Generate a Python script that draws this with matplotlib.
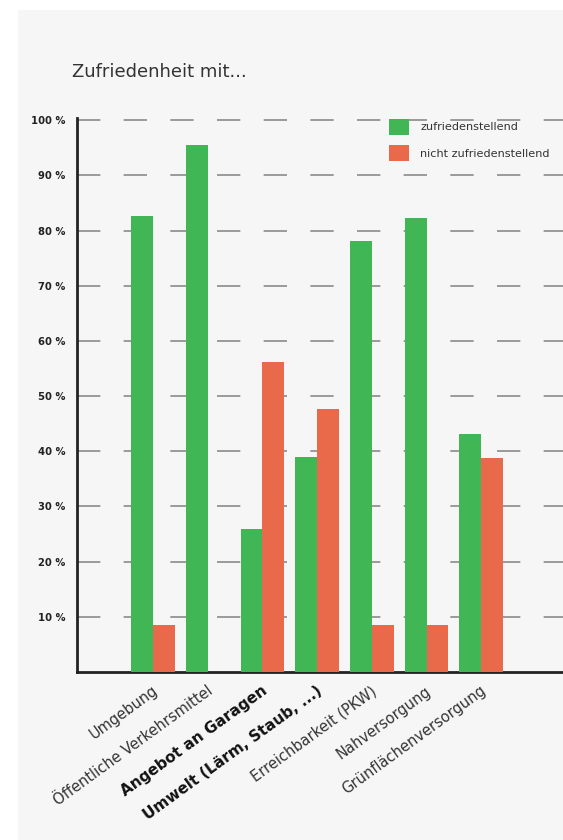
import numpy as np
import matplotlib.pyplot as plt
import matplotlib.transforms as mtransforms
from matplotlib.patches import Rectangle

# data
kategorien = ['Umgebung', 'Öffentliche Verkehrsmittel', 'Angebot an Garagen',
              'Umwelt (Lärm, Staub, ...)', 'Erreichbarkeit (PKW)', 'Nahversorgung',
              'Grünflächenversorgung']
zufrieden = [82.6, 95.5, 26.0, 38.9, 78.1, 82.3, 43.2]
nicht_zufrieden = [8.5, 0.0, 56.2, 47.7, 8.5, 8.5, 38.7]
fett = ['Angebot an Garagen', 'Umwelt (Lärm, Staub, ...)']
yticks = [10, 20, 30, 40, 50, 60, 70, 80, 90, 100]

gruen = '#41b654'
rot = '#e9694b'

fig = plt.figure(figsize=(5.63, 8.4), dpi=100)
# grey scanned page behind the chart
fig.patches.append(Rectangle((18 / 563, 0), 1, 1 - 10 / 840, transform=fig.transFigure,
                             facecolor='#f6f6f6', edgecolor='none', zorder=-10))

ax = fig.add_axes([77 / 563, 168 / 840, 500 / 563, 554 / 840])
ax.patch.set_alpha(0)

x = np.arange(len(kategorien))
w = 0.4
ax.bar(x - w / 2, zufrieden, w, color=gruen, label='zufriedenstellend', zorder=3)
ax.bar(x + w / 2, nicht_zufrieden, w, color=rot, label='nicht zufriedenstellend', zorder=3)

ax.set_xlim(-76 / 54.7, -76 / 54.7 + 500 / 54.7)
ax.set_ylim(0, 100.4)

# dashed grid
for yv in yticks:
    ax.axhline(yv, color='#8a8a8a', lw=1.2, linestyle=(0, (14, 14)), zorder=1)

for s in ['top', 'right']:
    ax.spines[s].set_visible(False)
for s in ['left', 'bottom']:
    ax.spines[s].set_linewidth(2)
    ax.spines[s].set_color('#222222')

ax.set_yticks(yticks)
ax.set_yticklabels(['{} %'.format(v) for v in yticks], fontsize=7.2, fontweight='bold', color='#222222')
ax.tick_params(axis='y', length=0, pad=8.5)

ax.set_xticks(x)
ax.set_xticklabels(kategorien, rotation=36, ha='right', va='top', rotation_mode='anchor',
                   fontsize=10.5, color='#333333')
ax.tick_params(axis='x', length=0, pad=8)
offset = mtransforms.ScaledTranslation(-1 / 100, 0, fig.dpi_scale_trans)
for lab in ax.get_xticklabels():
    lab.set_transform(lab.get_transform() + offset)
    if lab.get_text() in fett:
        lab.set_fontweight('bold')
        lab.set_fontsize(11)
        lab.set_color('#111111')

fig.text(72 / 563, 1 - 72 / 840, 'Zufriedenheit mit...', fontsize=13, color='#333333',
         ha='left', va='center')

leg = ax.legend(loc='upper left', bbox_to_anchor=(383 / 563, 1 - 113 / 840),
                bbox_transform=fig.transFigure, frameon=False, fontsize=8.1, borderpad=0,
                handlelength=1.85, handleheight=1.85, labelspacing=0.9, handletextpad=0.95)
for t in leg.get_texts():
    t.set_color('#333333')

fig.savefig('out.png', dpi=100)
